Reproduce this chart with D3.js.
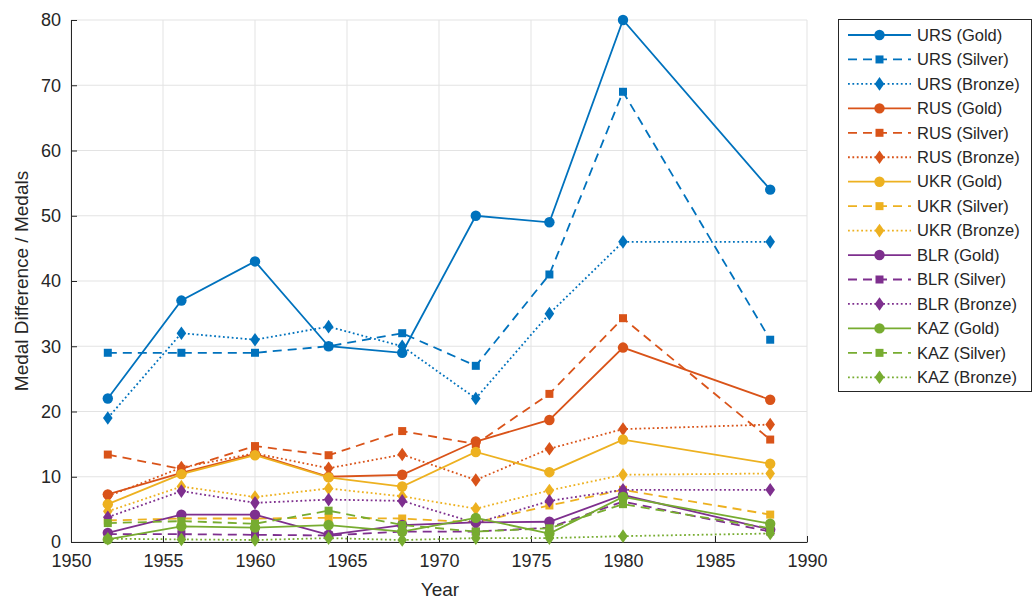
<!DOCTYPE html>
<html>
<head>
<meta charset="utf-8">
<script src="https://cdn.jsdelivr.net/npm/d3@7"></script>
<style>
  html, body { margin: 0; padding: 0; background: #fff; }
  svg { display: block; font-family: "Liberation Sans", Arial, sans-serif; }
</style>
</head>
<body>
<svg id="chart" width="1033" height="600"></svg>
<script>
// Olympic years on the x axis
const years = [1952, 1956, 1960, 1964, 1968, 1972, 1976, 1980, 1988];

// Medal counts per country and medal type
const ursGold   = [22, 37, 43, 30, 29, 50, 49, 80, 54];
const ursSilver = [29, 29, 29, 30, 32, 27, 41, 69, 31];
const ursBronze = [19, 32, 31, 33, 30, 22, 35, 46, 46];
const rusGold   = [7.3, 10.6, 13.5, 10.0, 10.3, 15.4, 18.7, 29.8, 21.8];
const rusSilver = [13.4, 11.2, 14.7, 13.3, 17.0, 15.0, 22.7, 34.3, 15.7];
const rusBronze = [7.0, 11.4, 13.6, 11.3, 13.4, 9.5, 14.3, 17.3, 18.0];
const ukrGold   = [5.8, 10.4, 13.3, 9.9, 8.5, 13.8, 10.7, 15.7, 12.0];
const ukrSilver = [3.3, 3.6, 3.6, 3.7, 3.6, 3.0, 5.6, 8.0, 4.2];
const ukrBronze = [4.7, 8.5, 6.9, 8.2, 7.0, 5.1, 7.9, 10.3, 10.5];
const blrGold   = [1.4, 4.2, 4.2, 1.1, 2.6, 3.0, 3.1, 7.2, 1.9];
const blrSilver = [1.2, 1.2, 1.1, 1.0, 1.6, 1.6, 2.2, 6.2, 1.6];
const blrBronze = [3.8, 7.8, 6.0, 6.5, 6.3, 2.9, 6.3, 8.0, 8.0];
const kazGold   = [0.4, 2.4, 2.2, 2.6, 1.6, 3.7, 1.3, 6.9, 2.8];
const kazSilver = [2.9, 3.2, 2.8, 4.8, 2.6, 1.6, 2.1, 5.8, 2.1];
const kazBronze = [0.5, 0.4, 0.3, 0.6, 0.3, 0.6, 0.6, 0.9, 1.3];

const countries = ["URS", "RUS", "UKR", "BLR", "KAZ"];
const medals = ["Gold", "Silver", "Bronze"];
const countryValues = {
  URS: [ursGold, ursSilver, ursBronze],
  RUS: [rusGold, rusSilver, rusBronze],
  UKR: [ukrGold, ukrSilver, ukrBronze],
  BLR: [blrGold, blrSilver, blrBronze],
  KAZ: [kazGold, kazSilver, kazBronze]
};

const xTicks = [1950, 1955, 1960, 1965, 1970, 1975, 1980, 1985, 1990];
const yTicks = [0, 10, 20, 30, 40, 50, 60, 70, 80];

const countryColors = ["#0072BD", "#D95319", "#EDB120", "#7E2F8E", "#77AC30"];
const medalDash = ["none", "9,6", "1.8,2.6"];
const medalSymbol = [d3.symbolCircle, d3.symbolSquare, "diamond"];

const series = [];
countries.forEach((c, ci) => {
  medals.forEach((m, mi) => {
    series.push({
      name: `${c} (${m})`,
      color: countryColors[ci],
      medal: mi,
      points: years.map((yr, i) => ({ year: yr, value: countryValues[c][mi][i] }))
    });
  });
});

const svg = d3.select("#chart");
const margin = { left: 71, right: 807, top: 20, bottom: 542 };

const x = d3.scaleLinear().domain([1950, 1990]).range([margin.left, margin.right]);
const y = d3.scaleLinear().domain([0, 80]).range([margin.bottom, margin.top]);

const axisColor = "#262626";

// grid
const grid = svg.append("g");
grid.selectAll("line.gx").data(xTicks).join("line")
  .attr("x1", d => x(d)).attr("x2", d => x(d))
  .attr("y1", margin.top).attr("y2", margin.bottom)
  .attr("stroke", "#e3e3e3").attr("stroke-width", 1);
grid.selectAll("line.gy").data(yTicks).join("line")
  .attr("x1", margin.left).attr("x2", margin.right)
  .attr("y1", d => y(d)).attr("y2", d => y(d))
  .attr("stroke", "#e3e3e3").attr("stroke-width", 1);

// axes
const xAxis = d3.axisBottom(x).tickValues(xTicks).tickFormat(d3.format("d"))
  .tickSizeInner(-6).tickSizeOuter(0).tickPadding(12);
const yAxis = d3.axisLeft(y).tickValues(yTicks).tickFormat(d3.format("d"))
  .tickSizeInner(-6).tickSizeOuter(0).tickPadding(10);

const gx = svg.append("g").attr("transform", `translate(0,${margin.bottom})`).call(xAxis);
const gy = svg.append("g").attr("transform", `translate(${margin.left},0)`).call(yAxis);
[gx, gy].forEach(g => {
  g.select(".domain").attr("stroke", axisColor).attr("stroke-width", 1);
  g.selectAll(".tick line").attr("stroke", axisColor);
  g.selectAll(".tick text").attr("fill", axisColor).style("font-size", "18px")
    .style("font-family", "Liberation Sans, Arial, sans-serif");
});

// axis labels
svg.append("text")
  .attr("x", 440).attr("y", 596)
  .attr("text-anchor", "middle").attr("fill", axisColor)
  .style("font-size", "19px").text("Year");
svg.append("text")
  .attr("transform", `translate(28,${(margin.top + margin.bottom) / 2}) rotate(-90)`)
  .attr("text-anchor", "middle").attr("fill", axisColor)
  .style("font-size", "19px").text("Medal Difference / Medals");

// marker path generator
function markerPath(kind) {
  if (kind === "diamond") return "M0,-6.8L4.8,0L0,6.8L-4.8,0Z";
  if (kind === d3.symbolCircle) return d3.symbol(kind, 85)();
  return d3.symbol(kind, 64)();
}

const line = d3.line().x(d => x(d.year)).y(d => y(d.value));

const plot = svg.append("g");
series.forEach(s => {
  const g = plot.append("g");
  g.append("path").datum(s.points)
    .attr("d", line).attr("fill", "none")
    .attr("stroke", s.color).attr("stroke-width", 1.8)
    .attr("stroke-dasharray", medalDash[s.medal]);
  g.selectAll("path.mk").data(s.points).join("path")
    .attr("class", "mk")
    .attr("transform", d => `translate(${x(d.year)},${y(d.value)})`)
    .attr("d", markerPath(medalSymbol[s.medal]))
    .attr("fill", s.color);
});

// legend
const legend = svg.append("g");
const lx = 838, ly = 19, lw = 193, rowH = 24.45;
legend.append("rect")
  .attr("x", lx + 0.5).attr("y", ly + 0.5)
  .attr("width", lw).attr("height", 372)
  .attr("fill", "#fff").attr("stroke", axisColor).attr("stroke-width", 1);
series.forEach((s, i) => {
  const cy = 35 + i * rowH;
  const row = legend.append("g");
  row.append("line")
    .attr("x1", 848).attr("x2", 911).attr("y1", cy).attr("y2", cy)
    .attr("stroke", s.color).attr("stroke-width", 1.8)
    .attr("stroke-dasharray", medalDash[s.medal]);
  row.append("path")
    .attr("transform", `translate(879.5,${cy})`)
    .attr("d", markerPath(medalSymbol[s.medal]))
    .attr("fill", s.color);
  row.append("text")
    .attr("x", 917).attr("y", cy).attr("dy", "0.35em")
    .attr("fill", axisColor).style("font-size", "16.5px")
    .text(s.name);
});
</script>
</body>
</html>
